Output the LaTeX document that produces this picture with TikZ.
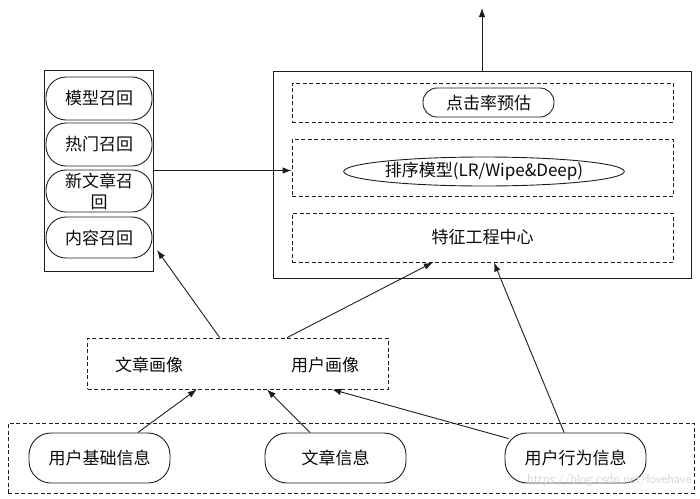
\documentclass[tikz,border=0pt]{standalone}
\usepackage{fontspec}
\setmainfont{Noto Sans CJK SC}
\usetikzlibrary{arrows.meta,shapes.geometric,calc}
\definecolor{textdark}{HTML}{0A0A0A}
\definecolor{linedark}{HTML}{1E1E1E}
\definecolor{markgray}{HTML}{D4D4D4}
\tikzset{
  >=Latex,
  txt/.style={font=\fontsize{17}{21}\selectfont, text=textdark, align=center},
  panel/.style={rectangle, draw=linedark, line width=1pt, inner sep=0pt},
  dashpanel/.style={rectangle, draw=linedark, line width=0.9pt, dash pattern=on 4pt off 2.5pt, inner sep=0pt},
  pill/.style={rectangle, rounded corners=20pt, draw=linedark, line width=0.9pt, inner sep=0pt, txt},
  oval/.style={ellipse, draw=linedark, line width=0.9pt, inner sep=0pt, txt},
  arrow/.style={-{Latex[length=9pt,width=6.5pt]}, line width=0.9pt, draw=linedark},
  watermark/.style={font=\sffamily\fontsize{13}{15}\selectfont, text=markgray}
}

\begin{document}
\begin{tikzpicture}[x=1pt,y=-1pt]
\useasboundingbox (0,0) rectangle (700,498);
% recall column
\node[panel, minimum width=109pt, minimum height=201pt] (recall) at (98.5,170.5) {};
\node[pill, minimum width=106pt, minimum height=43pt] (r1) at (99,98.5) {模型召回};
\node[pill, minimum width=106pt, minimum height=43pt] (r2) at (99,144.5) {热门召回};
\node[pill, minimum width=106pt, minimum height=42pt] (r3) at (99,191) {新文章召\\回};
\node[pill, minimum width=106pt, minimum height=41pt] (r4) at (99,237.5) {内容召回};
% ranking block
\node[panel, minimum width=418pt, minimum height=207pt] (big) at (482,174.5) {};
\node[dashpanel, minimum width=381pt, minimum height=39pt] (ctrbox) at (482.5,102.5) {};
\node[pill, rounded corners=14pt, minimum width=131pt, minimum height=29pt] (ctr) at (488.5,102.5) {点击率预估};
\node[dashpanel, minimum width=381pt, minimum height=57pt] (rankbox) at (482.5,167.5) {};
\node[oval, minimum width=270pt, minimum height=29pt] (rank) at (484,171.5) {排序模型(LR/Wipe\&Deep)};
\node[dashpanel, minimum width=381pt, minimum height=49pt, txt] (featbox) at (482.5,237.5) {特征工程中心};
% profiles
\node[dashpanel, minimum width=300.5pt, minimum height=51pt] (prof) at (237.75,363.5) {};
\node[txt] (artprof) at (149,365) {文章画像};
\node[txt] (userprof) at (325,365) {用户画像};
% sources
\node[dashpanel, minimum width=686pt, minimum height=70pt] (srcbox) at (351,458) {};
\node[pill, rounded corners=22pt, minimum width=141pt, minimum height=50pt] (basic) at (99.5,458) {用户基础信息};
\node[pill, rounded corners=22pt, minimum width=141pt, minimum height=50pt] (art) at (335.5,458) {文章信息};
\node[pill, rounded corners=22pt, minimum width=141pt, minimum height=50pt] (behav) at (575.5,458) {用户行为信息};
\node[watermark, anchor=east] (wmark) at (695,480) {https://blog.csdn.net/lovehave};
\coordinate (top) at (482,8);
\coordinate (recalltip) at (157,250);
% connectors
\draw[arrow] (recall.east) -- (recall.east -| rankbox.west);
\draw[arrow] (big.north) -- (top);
\draw[arrow] ($(prof.north west)!0.44!(prof.north east)$) -- (recalltip);
\draw[arrow] ($(prof.north west)!0.664!(prof.north east)$) -- ($(featbox.south west)!0.37!(featbox.south east)$);
\draw[arrow] ($(behav.north west)!0.42!(behav.north east)$) -- ($(featbox.south west)!0.53!(featbox.south east)$);
\draw[arrow] ($(basic.north west)!0.77!(basic.north east)$) -- ($(prof.south west)!0.364!(prof.south east)$);
\draw[arrow] ($(art.north west)!0.32!(art.north east)$) -- ($(prof.south west)!0.597!(prof.south east)$);
\draw[arrow] ($(behav.north west)+(4,6)$) -- ($(prof.south west)!0.813!(prof.south east)$);
\end{tikzpicture}
\end{document}
